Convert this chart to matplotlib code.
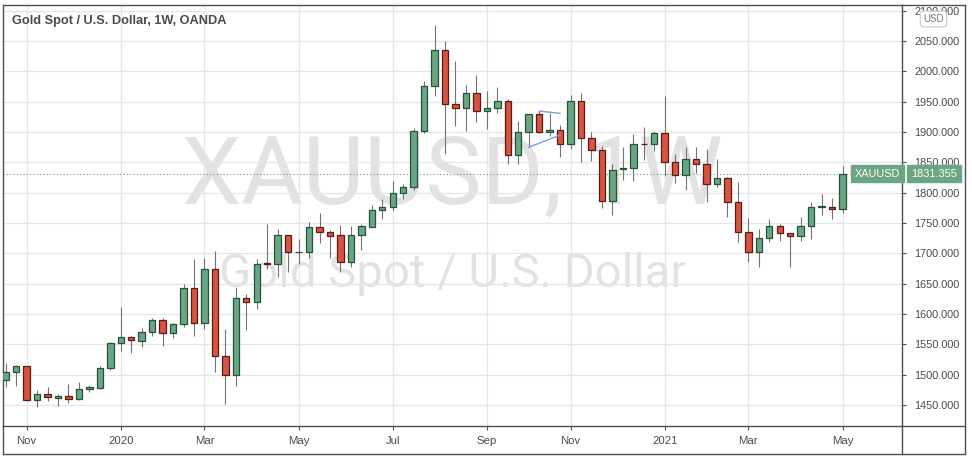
import numpy as np
import matplotlib
matplotlib.use("Agg")
import matplotlib.pyplot as plt
import matplotlib.dates as mdates
from matplotlib.lines import Line2D
from matplotlib.transforms import blended_transform_factory

# ---------------- data ----------------
week_start = "2019-10-21"
n_weeks = 81
opens = [1491, 1504, 1514, 1459, 1468, 1462, 1465, 1460, 1476, 1478,
         1511, 1552, 1562, 1556, 1571, 1590, 1569, 1584, 1643, 1586,
         1674, 1530, 1499, 1627, 1619, 1684, 1683, 1730, 1701.5, 1702,
         1743, 1735, 1730, 1685, 1731, 1744, 1771, 1776, 1799, 1810,
         1901, 1976, 2036, 1946, 1940, 1965, 1934, 1940, 1951, 1862,
         1900, 1930, 1900, 1903, 1880, 1951, 1890, 1871, 1787, 1839,
         1840, 1881, 1880, 1898, 1850, 1829, 1856, 1848, 1814, 1825,
         1784, 1735, 1703, 1726, 1745, 1733, 1729, 1745, 1777, 1777,
         1772.5]
highs = [1519, 1516, 1515, 1475, 1480, 1468, 1485, 1488, 1483, 1515,
         1554, 1612, 1563, 1577, 1593, 1593, 1586, 1649, 1691, 1692,
         1704, 1575, 1645, 1633, 1691, 1748, 1740, 1731, 1723, 1752,
         1766, 1738, 1747, 1745, 1748, 1779, 1790, 1819, 1815, 1906,
         1984, 2076, 2050, 2017, 1977, 1994, 1968, 1974, 1955, 1918,
         1930, 1934, 1932, 1911, 1961, 1965, 1900, 1877, 1848, 1875,
         1897, 1908, 1902, 1959, 1864, 1875, 1876, 1872, 1855, 1826,
         1817, 1759, 1740, 1756, 1748, 1733.5, 1760, 1785, 1798, 1791,
         1844]
lows = [1480, 1481, 1456, 1446, 1456, 1449, 1454, 1459, 1471, 1477,
        1508, 1539, 1536, 1546, 1563, 1548, 1561, 1579, 1563, 1576,
        1505, 1451, 1482, 1573, 1609, 1675, 1661, 1670, 1682, 1692,
        1717, 1693, 1670, 1677, 1705, 1743, 1757, 1770, 1790, 1804,
        1899, 1959, 1863, 1910, 1902, 1917, 1905, 1932, 1848, 1848,
        1875, 1898, 1894, 1859, 1872, 1850, 1853, 1774, 1764, 1821,
        1820, 1854, 1869, 1828, 1816, 1804, 1832, 1785, 1809, 1760,
        1718, 1686, 1677, 1719, 1721, 1678, 1721, 1723, 1764, 1756,
        1766]
closes = [1504, 1514, 1459, 1468, 1463, 1465, 1460, 1476, 1479, 1511,
          1552, 1562, 1557, 1571, 1590, 1569, 1584, 1643, 1586, 1674,
          1530, 1499, 1627, 1619, 1683, 1683, 1730, 1702, 1702, 1743,
          1735, 1729, 1685, 1731, 1745, 1771, 1776, 1799, 1810, 1901,
          1976, 2036, 1946, 1940, 1965, 1934, 1940, 1951, 1862, 1900,
          1930, 1900, 1903, 1880, 1951, 1890, 1871, 1787, 1838, 1840,
          1881, 1880, 1898, 1850, 1829, 1856, 1848, 1814, 1825, 1784,
          1735, 1703, 1726, 1745, 1733, 1729, 1745, 1777, 1778, 1772.5,
          1831.355]
last_price = 1831.355
symbol = "XAUUSD"
title = "Gold Spot / U.S. Dollar, 1W, OANDA"
watermark_big = "XAUUSD, 1W"
watermark_small = "Gold Spot / U.S. Dollar"
x_tick_dates = ["2019-11-04", "2020-01-06", "2020-03-02", "2020-05-04", "2020-07-06",
                "2020-09-07", "2020-11-02", "2021-01-04", "2021-03-01", "2021-05-03"]
x_tick_labels = ["Nov", "2020", "Mar", "May", "Jul", "Sep", "Nov", "2021", "Mar", "May"]
y_ticks = [1450, 1500, 1550, 1600, 1650, 1700, 1750, 1800, 1850, 1900, 1950, 2000, 2050, 2100]
# triangle drawing (date, price)
tri_upper = (["2020-10-12", "2020-10-26"], [1934.6, 1930.8])
tri_lower = (["2020-10-05", "2020-10-26"], [1874.8, 1895.0])

# ---------------- style ----------------
UP_FILL, DN_FILL = "#6ba583", "#d75442"
UP_EDGE, DN_EDGE = "#225437", "#5b1a13"
WICK = "#737375"
FRAME = "#4f4f4f"
TXT = "#4a4a4a"
GRID = "#e6e6e6"

W, H = 972, 458
fig = plt.figure(figsize=(W / 100, H / 100), dpi=100)
fig.patch.set_facecolor("white")

def fx(px):
    return px / W

def fy(py):
    return 1 - py / H

ax_l, ax_r, ax_t, ax_b = 3, 902, 4.7, 426
ax = fig.add_axes([fx(ax_l), fy(ax_b), fx(ax_r) - fx(ax_l), fy(ax_t) - fy(ax_b)])
ax.set_facecolor("white")

dates = np.datetime64(week_start) + np.arange(n_weeks) * np.timedelta64(7, "D")
xd = mdates.date2num(dates.astype("datetime64[D]").astype(object))
o = np.array(opens, float)
h = np.array(highs, float)
l = np.array(lows, float)
c = np.array(closes, float)
up = c >= o

# wicks
ax.vlines(xd, l, h, color=WICK, lw=0.8, zorder=3)
# bodies
bw = 4.3
bottoms = np.minimum(o, c)
heights = np.maximum(np.abs(c - o), 0.01)
ax.bar(xd[up], heights[up], bottom=bottoms[up], width=bw, color=UP_FILL,
       edgecolor=UP_EDGE, linewidth=0.9, zorder=4)
ax.bar(xd[~up], heights[~up], bottom=bottoms[~up], width=bw, color=DN_FILL,
       edgecolor=DN_EDGE, linewidth=0.9, zorder=4)

# triangle drawing
for dd, pp in (tri_upper, tri_lower):
    xx = mdates.date2num(np.array(dd, dtype="datetime64[D]").astype(object))
    ax.plot(xx, pp, color="#7f9fe0", lw=1.0, zorder=5)

# limits
px_per_week = 10.46
first_px = 5.7
x0 = xd[0] - (first_px - ax_l) / px_per_week * 7
x1 = xd[0] + (ax_r - first_px) / px_per_week * 7
ax.set_xlim(x0, x1)
ax.set_ylim(1415.4, 2109.9)

# grid
ax.set_yticks(y_ticks)
ax.set_yticklabels([f"{v:.3f}" for v in y_ticks])
xt = mdates.date2num(np.array(x_tick_dates, dtype="datetime64[D]").astype(object))
ax.set_xticks(xt)
ax.set_xticklabels(x_tick_labels)
ax.grid(True, color=GRID, lw=0.9, zorder=0)
ax.set_axisbelow(True)
ax.yaxis.tick_right()
ax.tick_params(axis="y", length=3, width=0.8, color=FRAME, pad=6,
               labelsize=7.8, labelcolor=TXT)
ax.tick_params(axis="x", length=3, width=0.8, color=FRAME, pad=4,
               labelsize=8.2, labelcolor=TXT)
for lab in ax.get_xticklabels() + ax.get_yticklabels():
    lab.set_fontfamily("Liberation Sans")
for s in ax.spines.values():
    s.set_color(FRAME)
    s.set_linewidth(1.0)

# current price line
ax.axhline(last_price, color="#5f9c86", lw=0.8, ls=(0, (1, 2)), zorder=2)

# watermark
ax.text(0.5, 0.529, watermark_big, transform=ax.transAxes, ha="center", va="baseline",
        fontsize=68, family="Roboto", color="#e2e2e2", zorder=0.5)
ax.text(0.5, 0.33, watermark_small, transform=ax.transAxes, ha="center", va="baseline",
        fontsize=34, family="Roboto", color="#e2e2e2", zorder=0.5)

# symbol label and price label
ax.text(0.9975, last_price, symbol, transform=blended_transform_factory(ax.transAxes, ax.transData),
        ha="right", va="center", fontsize=7.8, family="Liberation Sans", color="white",
        zorder=6, bbox=dict(boxstyle="square,pad=0.35", fc=UP_FILL, ec=UP_FILL))
fig.text(fx(957), last_price, f"{last_price:.3f}",
         transform=blended_transform_factory(fig.transFigure, ax.transData),
         ha="right", va="center", fontsize=7.8, family="Liberation Sans", color="white",
         zorder=6, bbox=dict(boxstyle="square,pad=0.35", fc=UP_FILL, ec=UP_FILL))

# title
fig.text(fx(12), fy(21), title, ha="left", va="center", fontsize=9.2,
         family="Liberation Sans", fontweight="bold", color=TXT)

# USD box
fig.text(fx(933.5), fy(19), "USD", ha="center", va="center", fontsize=7,
         family="Liberation Sans", color="#777777", zorder=7,
         bbox=dict(boxstyle="round,pad=0.3", fc="white", ec="#c8c8c8", lw=0.8))

# outer frame
lines = [
    ((ax_l, ax_l), (ax_b, 454)),
    ((ax_l, 965), (454, 454)),
    ((965, 965), (ax_t, 454)),
    ((ax_r, 965), (ax_t, ax_t)),
    ((ax_r, ax_r), (ax_b, 454)),
    ((ax_r, 965), (ax_b, ax_b)),
]
for xs, ys in lines:
    fig.add_artist(Line2D([fx(v) for v in xs], [fy(v) for v in ys],
                          color=FRAME, lw=1.0, transform=fig.transFigure))

fig.savefig("out.png", dpi=100, facecolor="white")
